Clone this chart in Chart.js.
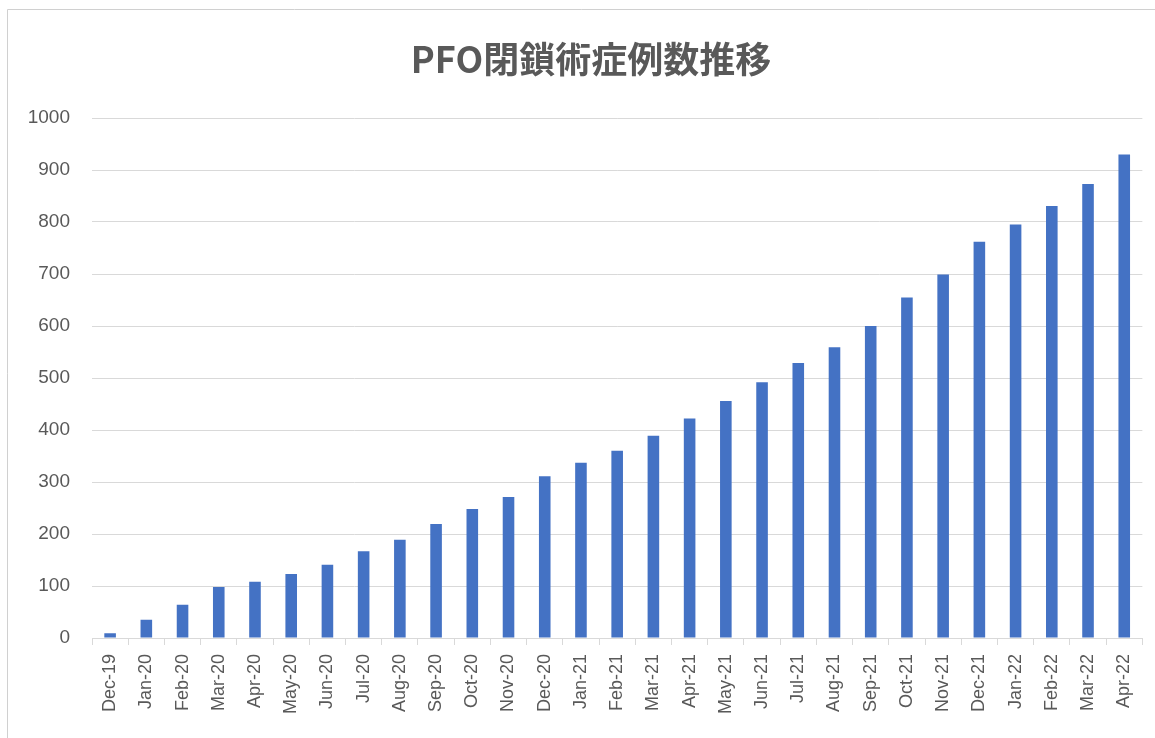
<!DOCTYPE html>
<html>
<head>
<meta charset="utf-8">
<script src="https://cdn.jsdelivr.net/npm/chart.js@4/dist/chart.umd.min.js"></script>
<style>
html,body{margin:0;padding:0;background:#fff;}
#wrap{width:1155px;height:738px;position:relative;}
</style>
</head>
<body>
<div id="wrap"><canvas id="c" width="1155" height="738"></canvas></div>
<script>
const chartTitle = "PFO閉鎖術症例数推移";
const categories = ["Dec-19","Jan-20","Feb-20","Mar-20","Apr-20","May-20","Jun-20","Jul-20","Aug-20","Sep-20","Oct-20","Nov-20","Dec-20","Jan-21","Feb-21","Mar-21","Apr-21","May-21","Jun-21","Jul-21","Aug-21","Sep-21","Oct-21","Nov-21","Dec-21","Jan-22","Feb-22","Mar-22","Apr-22"];
const cases = [9,35,64,98,108,123,141,167,189,219,248,271,311,337,360,389,422,456,492,529,559,600,655,699,762,795,831,873,930];
const yTicks = {min:0, max:1000, step:100};

const framePlugin = {
  id:'frame',
  beforeDraw(chart){
    const ctx = chart.ctx;
    ctx.save();
    ctx.fillStyle = '#ffffff';
    ctx.fillRect(0,0,chart.width,chart.height);
    ctx.strokeStyle = '#d0d0d0';
    ctx.lineWidth = 1;
    ctx.beginPath();
    ctx.moveTo(7.5, 738);
    ctx.lineTo(7.5, 9.5);
    ctx.lineTo(1155, 9.5);
    ctx.stroke();
    ctx.restore();
  },
  afterDraw(chart){
    const ctx = chart.ctx;
    ctx.save();
    ctx.fillStyle = '#595959';
    ctx.font = 'bold 36px "Noto Sans CJK JP", sans-serif';
    ctx.textAlign = 'center';
    ctx.textBaseline = 'middle';
    ctx.fillText(chartTitle, 591, 59);
    ctx.restore();
  }
};

new Chart(document.getElementById('c'), {
  type:'bar',
  data:{
    labels:categories,
    datasets:[{
      label:'症例数',
      data:cases,
      backgroundColor:'#4472c4',
      borderWidth:0,
      barPercentage:0.32,
      categoryPercentage:1.0
    }]
  },
  options:{
    responsive:false,
    animation:false,
    layout:{padding:{top:118,left:0,right:9,bottom:0}},
    plugins:{
      legend:{display:false},
      tooltip:{enabled:false},
      title:{display:false}
    },
    scales:{
      x:{
        offset:true,
        grid:{offset:true, drawOnChartArea:false, drawTicks:true, tickLength:7, color:'#d9d9d9'},
        border:{display:true, color:'#d9d9d9'},
        ticks:{
          color:'#595959',
          font:{family:'"Liberation Sans", Arial, sans-serif', size:18},
          minRotation:90, maxRotation:90, autoSkip:false, padding:9
        },
        afterFit(s){ s.height = 100; }
      },
      y:{
        min:yTicks.min, max:yTicks.max,
        grid:{color:'#d9d9d9', drawTicks:false},
        border:{display:false},
        ticks:{
          stepSize:yTicks.step,
          color:'#595959',
          font:{family:'"Liberation Sans", Arial, sans-serif', size:19},
          padding:22,
          callback:(v)=>String(v)
        },
        afterFit(s){ s.width = 92; }
      }
    }
  },
  plugins:[framePlugin]
});
</script>
</body>
</html>
